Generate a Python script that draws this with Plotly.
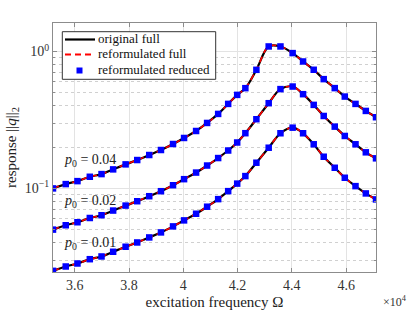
import math
import plotly.graph_objects as go

# excitation frequency grid (shared by all three load levels)
freq = [35200, 35669, 36101, 36556, 36988, 37416, 37875, 38303, 38746, 39178,
        39622, 40029, 40472, 40878, 41285, 41654, 41986, 42287, 42693, 43147,
        43580, 44029, 44413, 44805, 45174, 45580, 45950, 46345, 46725, 47100]

resp_004 = [0.1000, 0.1075, 0.1130, 0.1216, 0.1272, 0.1377, 0.1498, 0.1611, 0.1753, 0.1907,
            0.2110, 0.2335, 0.2626, 0.3006, 0.3499, 0.4141, 0.4819, 0.5396, 0.7345, 1.088,
            1.088, 0.973, 0.845, 0.735, 0.628, 0.540, 0.4685, 0.414, 0.368, 0.331]

resp_002 = [0.0500, 0.0538, 0.0566, 0.0608, 0.0637, 0.0689, 0.0749, 0.0806, 0.0877, 0.0954,
            0.1055, 0.1168, 0.1305, 0.1469, 0.1666, 0.1891, 0.2164, 0.253, 0.320, 0.419,
            0.531, 0.5545, 0.4876, 0.4073, 0.338, 0.2825, 0.2415, 0.210, 0.1834, 0.1658]

resp_001 = [0.0250, 0.0269, 0.02829, 0.03041, 0.03184, 0.03446, 0.03749, 0.04029, 0.04385, 0.0477,
            0.0528, 0.0584, 0.0653, 0.0735, 0.0835, 0.0955, 0.1084, 0.1230, 0.1540, 0.1982,
            0.2527, 0.2777, 0.2527, 0.2100, 0.1703, 0.1415, 0.1196, 0.1039, 0.0919, 0.0831]

curves = [("0.04", resp_004), ("0.02", resp_002), ("0.01", resp_001)]
label_y = [0.160, 0.0805, 0.0395]
legend_names = ["original full", "reformulated full", "reformulated reduced"]

x_tickvals = [36000, 38000, 40000, 42000, 44000, 46000]
x_ticktext = ["3.6", "3.8", "4", "4.2", "4.4", "4.6"]
y_tickvals = [0.1, 1]
y_ticktext = ["10<sup>\u22121</sup>", "10<sup>0</sup>"]
y_minor = [0.03, 0.04, 0.05, 0.06, 0.07, 0.08, 0.09,
           0.2, 0.3, 0.4, 0.5, 0.6, 0.7, 0.8, 0.9]

FONT = "Liberation Serif"
W, H = 415, 312
L, R, T, B = 53, 39, 23, 40
PW, PH = W - L - R, H - T - B


def px(xp):
    return (xp - L) / PW


def py(yp):
    return (H - B - yp) / PH


fig = go.Figure()
for i, (p, r) in enumerate(curves):
    fig.add_trace(go.Scatter(x=freq, y=r, mode="lines", line=dict(color="black", width=2.2, shape="spline"),
                             name=legend_names[0], showlegend=False))
    fig.add_trace(go.Scatter(x=freq, y=r, mode="lines",
                             line=dict(color="#ff0000", width=1.6, dash="6px,4px", shape="spline"),
                             name=legend_names[1], showlegend=False))
    fig.add_trace(go.Scatter(x=freq, y=r, mode="markers",
                             marker=dict(symbol="square", size=6.5, color="#0000ff"),
                             name=legend_names[2], showlegend=False))

for (p, r), ly in zip(curves, label_y):
    fig.add_annotation(x=35520, y=math.log10(ly), xref="x", yref="y", xanchor="left", yanchor="middle",
                       text=f"<i>p</i><sub>0</sub> = {p}", showarrow=False,
                       font=dict(family=FONT, size=14, color="#222"))

fig.add_annotation(x=px(381), y=py(301), xref="paper", yref="paper", xanchor="left", yanchor="middle",
                   text="\u00d710<sup>4</sup>", showarrow=False, font=dict(family=FONT, size=12, color="#333"))

# legend box (drawn manually to match the compact layout)
fig.add_shape(type="rect", xref="paper", yref="paper", x0=px(62.3), x1=px(215.7), y0=py(79.3), y1=py(31.7),
              line=dict(color="#333", width=1), fillcolor="white", layer="above")
rows = [39.5, 54.5, 70.5]
fig.add_shape(type="line", xref="paper", yref="paper", x0=px(65), x1=px(95), y0=py(rows[0]), y1=py(rows[0]),
              line=dict(color="black", width=2.2), layer="above")
fig.add_shape(type="line", xref="paper", yref="paper", x0=px(65), x1=px(95), y0=py(rows[1]), y1=py(rows[1]),
              line=dict(color="#ff0000", width=1.8, dash="6px,4px"), layer="above")
fig.add_shape(type="rect", xref="paper", yref="paper", x0=px(76.5), x1=px(82.5), y0=py(rows[2] + 3), y1=py(rows[2] - 3),
              line=dict(color="#0000ff", width=0), fillcolor="#0000ff", layer="above")
for name, ry in zip(legend_names, rows):
    fig.add_annotation(x=px(96), y=py(ry - 1), xref="paper", yref="paper", xanchor="left", yanchor="middle",
                       text=name, showarrow=False, font=dict(family=FONT, size=13, color="#111"))

fig.update_xaxes(range=[35200, 47100], tickmode="array", tickvals=x_tickvals, ticktext=x_ticktext,
                 showline=True, linecolor="#8c8c8c", linewidth=1, mirror="allticks",
                 ticks="inside", ticklen=4, tickcolor="#8c8c8c", automargin=False,
                 showgrid=True, gridcolor="#e3e3e3", gridwidth=1, zeroline=False,
                 tickfont=dict(family=FONT, size=14, color="#333"),
                 title=dict(text="excitation frequency \u03a9", font=dict(family=FONT, size=15, color="#222"),
                            standoff=4))

fig.update_yaxes(type="log", range=[-1.6105, 0.2079], tickmode="array", tickvals=y_tickvals,
                 ticktext=y_ticktext, automargin=False,
                 showline=True, linecolor="#8c8c8c", linewidth=1, mirror="allticks",
                 ticks="inside", ticklen=4, tickcolor="#8c8c8c",
                 showgrid=True, gridcolor="#e3e3e3", gridwidth=1, zeroline=False,
                 minor=dict(tickmode="array", tickvals=y_minor, ticks="inside", ticklen=2,
                            tickcolor="#8c8c8c", showgrid=True, gridcolor="#d0d0d0", griddash="dot",
                            gridwidth=1),
                 tickfont=dict(family=FONT, size=14, color="#333"),
                 title=dict(text="response ||<i>q</i>||<sub>2</sub>", font=dict(family=FONT, size=15, color="#222"),
                            standoff=4))

fig.update_layout(width=W, height=H, margin=dict(l=L, r=R, t=T, b=B),
                  plot_bgcolor="white", paper_bgcolor="white", showlegend=False)

fig.write_html("out.html", config={"displayModeBar": False},
               post_script="document.body.style.margin='0';document.body.style.overflow='hidden';")
